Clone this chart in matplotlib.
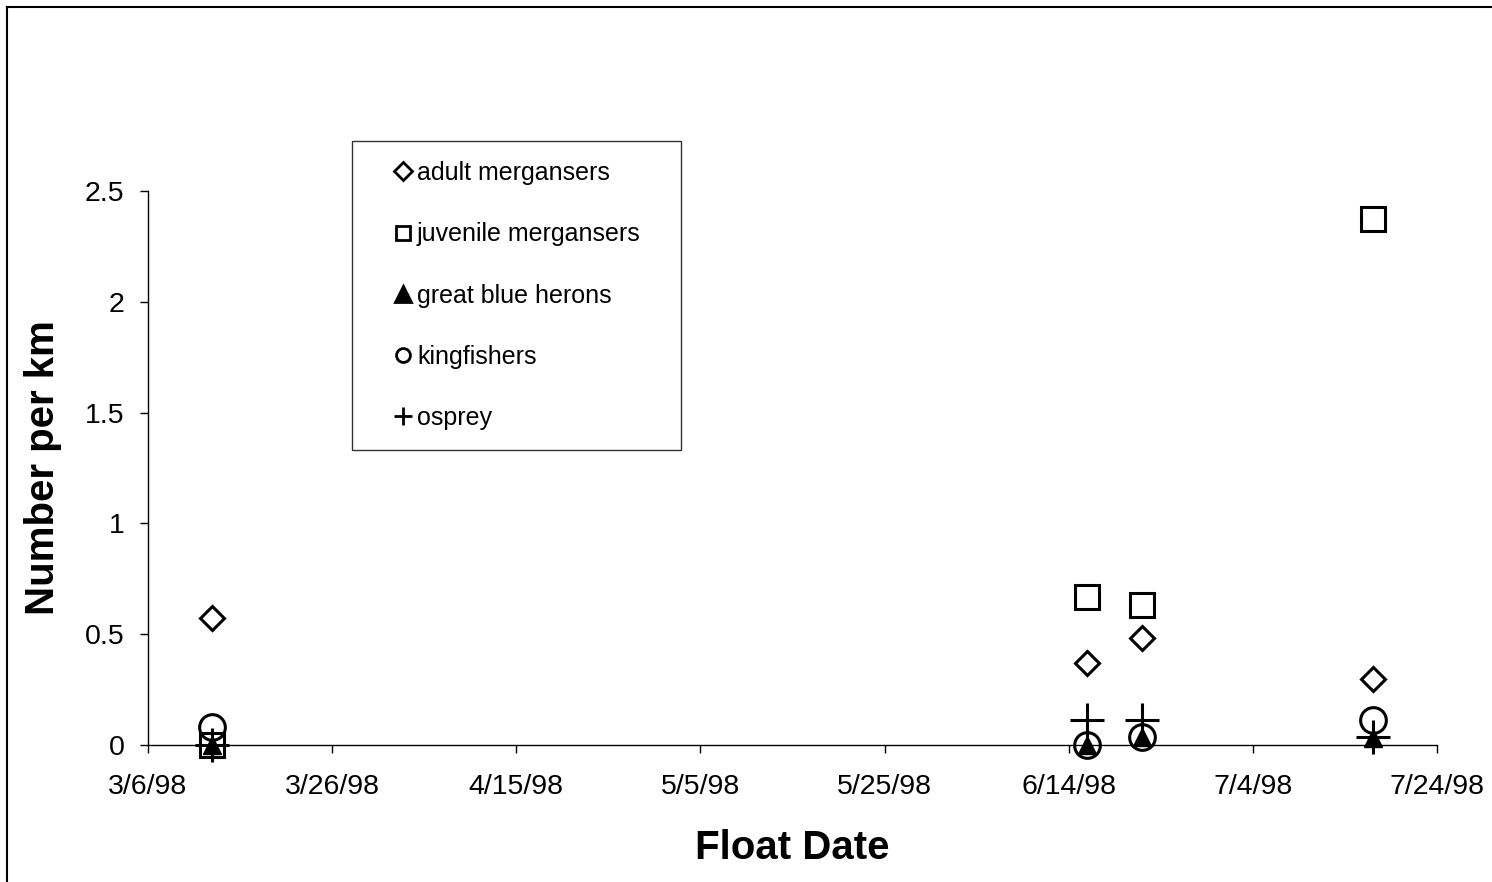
import datetime as dt
import matplotlib
matplotlib.use("Agg")
import matplotlib.pyplot as plt
import matplotlib.dates as mdates
from matplotlib.lines import Line2D

plt.rcParams['font.family'] = ['Liberation Sans', 'DejaVu Sans']

# float survey dates and birds counted per km
float_dates = [dt.date(1998, 3, 13), dt.date(1998, 6, 16),
               dt.date(1998, 6, 22), dt.date(1998, 7, 17)]
adult_mergansers = [0.573, 0.372, 0.481, 0.300]
juvenile_mergansers = [0.0, 0.668, 0.632, 2.372]
great_blue_herons = [0.0, 0.0, 0.037, 0.030]
kingfishers = [0.081, 0.0, 0.036, 0.113]
osprey = [0.0, 0.113, 0.113, 0.037]

x_ticks = [dt.date(1998, 3, 6) + dt.timedelta(days=20 * i) for i in range(8)]
y_ticks = [0, 0.5, 1, 1.5, 2, 2.5]
y_tick_labels = ['0', '0.5', '1', '1.5', '2', '2.5']

W, H = 1492, 882
fig = plt.figure(figsize=(W / 100, H / 100), dpi=100)
ax = fig.add_axes([148 / W, 1 - 745 / H, (1437 - 148) / W, (745 - 191) / H])

ax.plot(float_dates, adult_mergansers, ls='none', marker='D', ms=12,
        mfc='white', mec='black', mew=2.2, label='adult mergansers')
ax.plot(float_dates, juvenile_mergansers, ls='none', marker='s', ms=17.5,
        mfc='none', mec='black', mew=2.2, label='juvenile mergansers')
ax.plot(float_dates, great_blue_herons, ls='none', marker='^', ms=13,
        mfc='black', mec='black', mew=1, label='great blue herons')
ax.plot(float_dates, kingfishers, ls='none', marker='o', ms=18.5,
        mfc='none', mec='black', mew=2.2, label='kingfishers')
ax.plot(float_dates, osprey, ls='none', marker='+', ms=25,
        mec='black', mew=2.2, label='osprey')

ax.set_xlim(x_ticks[0], x_ticks[-1])
ax.set_ylim(0, 2.5)
ax.set_xticks(x_ticks)
ax.xaxis.set_major_formatter(
    plt.FuncFormatter(lambda v, p: (lambda d: f"{d.month}/{d.day}/{d.year % 100:02d}")(mdates.num2date(v))))
ax.set_yticks(y_ticks)
ax.set_yticklabels(y_tick_labels)

for s in ['top', 'right']:
    ax.spines[s].set_visible(False)
for s in ['left', 'bottom']:
    ax.spines[s].set_linewidth(1.0)
ax.tick_params(direction='out', length=6, width=1, labelsize=20.5)
ax.tick_params(axis='x', pad=15)
ax.tick_params(axis='y', pad=11)
for ln in ax.lines:
    ln.set_clip_on(False)

ax.set_xlabel('Float Date', fontsize=29, fontweight='bold', labelpad=21)
ax.set_ylabel('Number per km', fontsize=29, fontweight='bold', labelpad=16)

leg = ax.legend(loc='upper left', mode='expand',
                bbox_to_anchor=(352 / W, 1 - 141 / H - 0.01, (681 - 352) / W, 0.01),
                bbox_transform=fig.transFigure, fontsize=18,
                frameon=True, fancybox=False, borderpad=0.8, labelspacing=1.49,
                handlelength=2.5, handletextpad=-0.7, borderaxespad=0)
leg.get_frame().set_edgecolor('black')
leg.get_frame().set_linewidth(1.0)

# legend keys are drawn smaller than the plotted markers
legend_sizes = [9, 10.5, 12, 10, 12.5]
for h, size in zip(leg.legend_handles, legend_sizes):
    h.set_markersize(size)
    h.set_markeredgewidth(2.0)

# frame lines along the top and left edges of the figure
fig.add_artist(Line2D([6.5 / W, 6.5 / W], [0, 1 - 6.5 / H], color='black', lw=1.5,
                      transform=fig.transFigure))
fig.add_artist(Line2D([6.5 / W, 1], [1 - 6.5 / H, 1 - 6.5 / H], color='black', lw=1.5,
                      transform=fig.transFigure))

fig.savefig('out.png', dpi=100)
